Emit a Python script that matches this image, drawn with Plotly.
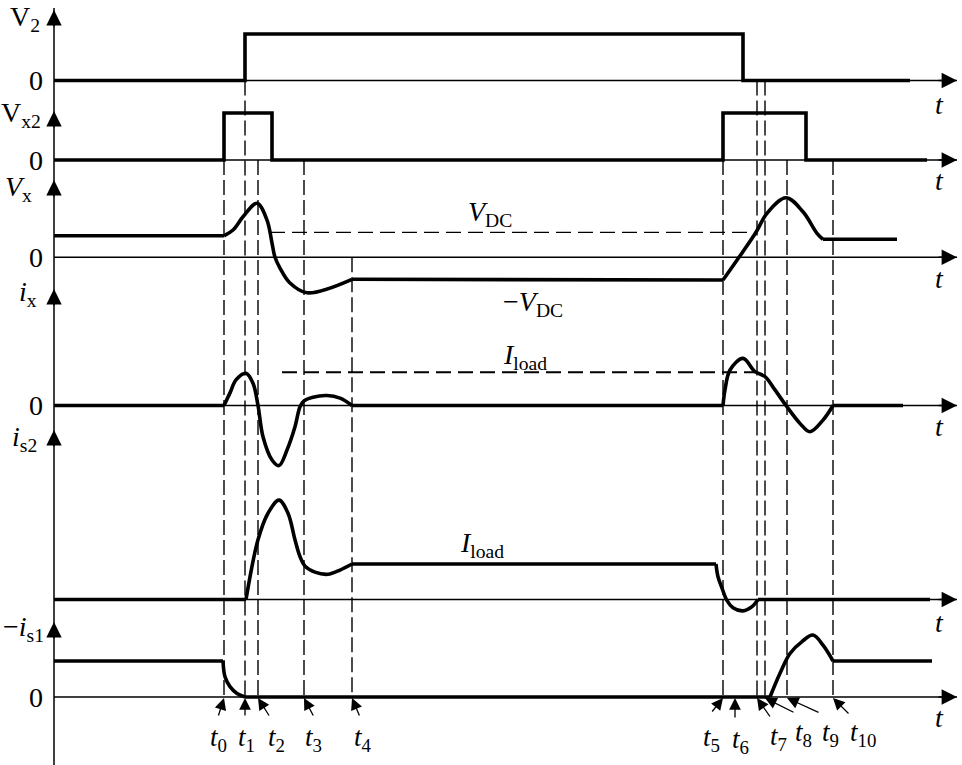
import plotly.graph_objects as go

# ---------------- data (time in arbitrary units, signals in normalised units) ----------------
event_labels = ["0", "1", "2", "3", "4", "5", "6", "7", "8", "9", "10"]
event_times = [17.0, 19.1, 20.4, 25.0, 29.8, 66.9, 68.1, 70.3, 71.1, 73.3, 77.9]

v2_t = [0.0, 19.1, 19.1, 68.9, 68.9, 85.6]
v2_v = [0, 0, 1, 1, 0, 0]

vx2_t = [0.0, 17.0, 17.0, 21.8, 21.8, 66.9, 66.9, 75.2, 75.2, 87.3]
vx2_v = [0, 0, 1, 1, 0, 0, 1, 1, 0, 0]

vx_t = [0.0, 17.0, 17.9, 18.9, 20.3, 21.3, 21.8, 22.1, 22.6, 23.6,
        25.3, 29.8, 66.9, 68.5, 70.2, 71.3, 73.2, 74.9, 76.3, 76.9, 84.3]
vx_v = [0.86, 0.86, 1.09, 1.62, 2.16, 1.49, 0.57, 0.0, -0.43, -1.03,
        -1.42, -0.88, -0.91, 0.0, 1.0, 1.76, 2.38, 1.82, 0.96, 0.72, 0.72]

ix_t = [0.0, 17.0, 17.6, 18.2, 19.2, 19.9, 20.4, 20.9, 21.8, 22.5,
        23.3, 24.1, 24.6, 25.0, 25.9, 27.3, 28.6, 29.8,
        66.9, 67.1, 67.6, 68.9, 70.1, 71.1, 72.1, 73.2,
        74.6, 75.6, 76.9, 77.9, 84.9]
ix_v = [0, 0, 0.38, 0.77, 0.97, 0.67, 0, -0.94, -1.64, -1.81,
        -1.34, -0.64, -0.04, 0.14, 0.25, 0.30, 0.22, 0,
        0, 0.47, 1.07, 1.42, 1.02, 0.87, 0.47, 0,
        -0.54, -0.79, -0.44, 0, 0]

is2_t = [0.0, 19.2, 20.4, 21.4, 22.5, 23.4, 24.1, 24.6, 25.1, 26.1, 27.4,
         28.6, 29.8, 66.2, 66.4, 66.8, 67.3, 67.9, 68.9, 69.8, 70.4, 87.6]
is2_v = [0, 0, 1.68, 2.43, 2.80, 2.43, 1.68, 1.21, 0.94, 0.77, 0.71,
         0.83, 1.0, 1.0, 0.64, 0.32, -0.03, -0.23, -0.32, -0.20, 0, 0]

is1_t = [0.0, 16.9, 17.1, 17.6, 18.3, 19.1, 71.6, 72.6, 73.6, 74.8, 75.9, 76.9, 77.9, 87.8]
is1_v = [1.0, 1.0, 0.56, 0.29, 0.10, 0, 0, 0.66, 1.21, 1.54, 1.72, 1.44, 1.0, 1.0]

vdc_level = 1.0
iload_level = 1.0

# ---------------- layout (panel placement, drawing coords = pixels from top) ----------------
FONT = "Liberation Serif, Times New Roman, serif"
PANELS = {
    "V2":  dict(base=80.5,  scale=46.5, label="V<sub>2</sub>",            lab_y=18,  lab_x=42, tip=10,  tlab=104, zero=True),
    "Vx2": dict(base=160.0, scale=47.0, label="V<sub>x2</sub>",           lab_y=114, lab_x=43, tip=111, tlab=180, zero=True),
    "Vx":  dict(base=257.3, scale=25.0, label="<i>V</i><sub>x</sub>",     lab_y=188, lab_x=34, tip=180, tlab=278, zero=True),
    "ix":  dict(base=405.5, scale=33.2, label="<i>i</i><sub>x</sub>",     lab_y=293, lab_x=39, tip=289, tlab=426, zero=True),
    "is2": dict(base=599.5, scale=35.5, label="<i>i</i><sub>s2</sub>",    lab_y=438, lab_x=39, tip=430, tlab=622, zero=False),
    "is1": dict(base=697.0, scale=36.0, label="−<i>i</i><sub>s1</sub>",   lab_y=628, lab_x=46, tip=622, tlab=717, zero=True),
}
PX0, PXU = 54.0, 10.0           # pixel of t=0 and pixels per time unit
T_END = (957 - PX0) / PXU       # arrow tip of time axes


def tx(px):
    return (px - PX0) / PXU


def ypos(panel, v):
    p = PANELS[panel]
    return p["base"] - v * p["scale"]


fig = go.Figure()
BLACK = "black"


def line(xs, ys, width=1.5, dash=None, shape="linear"):
    fig.add_trace(go.Scatter(x=xs, y=ys, mode="lines",
                             line=dict(color=BLACK, width=width, dash=dash, shape=shape),
                             hoverinfo="skip", showlegend=False))


# vertical axis
line([0, 0], [8, 765], width=1.5)

# time axes
for name, p in PANELS.items():
    line([0, T_END], [p["base"], p["base"]], width=1.5)

# vertical dashed event lines
dash_from = {0: "Vx2", 1: "V2", 2: "Vx2", 3: "Vx2", 4: "Vx", 5: "Vx2", 7: "V2", 8: "V2", 9: "Vx2", 10: "Vx2"}
for i, src in dash_from.items():
    t = event_times[i]
    line([t, t], [PANELS[src]["base"], PANELS["is1"]["base"]], width=1.4, dash="15px,5px")

# horizontal dashed reference levels
line([tx(270), event_times[7]], [ypos("Vx", vdc_level)] * 2, width=1.3, dash="15px,7px")
line([tx(282), event_times[7]], [ypos("ix", iload_level)] * 2, width=2.0, dash="15px,7px")


def signal(t, v, panel, kinks=(), smooth=False):
    y = [ypos(panel, val) for val in v]
    idx = [0] + list(kinks) + [len(t) - 1]
    for a, b in zip(idx[:-1], idx[1:]):
        shp = "spline" if (smooth and b - a > 1) else "linear"
        line(t[a:b + 1], y[a:b + 1], width=3.6, shape=shp)


signal(v2_t, v2_v, "V2")
signal(vx2_t, vx2_v, "Vx2")
signal(vx_t, vx_v, "Vx", kinks=(1, 11, 12, 19), smooth=True)
signal(ix_t, ix_v, "ix", kinks=(1, 17, 18, 29), smooth=True)
signal(is2_t, is2_v, "is2", kinks=(1, 12, 13, 20), smooth=True)
signal(is1_t, is1_v, "is1", kinks=(1, 5, 6, 12), smooth=True)

ann = []


def arrow(x, y, ax, ay, size=1.6, width=1.5):
    ann.append(dict(x=x, y=y, ax=ax, ay=ay, xref="x", yref="y", axref="x", ayref="y",
                    text="", showarrow=True, arrowhead=2, arrowsize=size, arrowwidth=width,
                    arrowcolor=BLACK, standoff=0, startstandoff=0))


def text(x, y, s, size=28, xanchor="center"):
    ann.append(dict(x=x, y=y, xref="x", yref="y", text=s, showarrow=False,
                    xanchor=xanchor, yanchor="middle",
                    font=dict(family=FONT, size=size, color=BLACK)))


for name, p in PANELS.items():
    # arrow on time axis
    arrow(T_END, p["base"], T_END - 2.0, p["base"], size=2.2, width=1.4)
    # arrow on vertical axis
    arrow(0, p["tip"], 0, p["tip"] + 18, size=2.2, width=1.4)
    text(tx(p["lab_x"]), p["lab_y"], p["label"], xanchor="right")
    if p["zero"]:
        text(tx(45), p["base"], "0", xanchor="right")
    text(tx(939), p["tlab"], "<i>t</i>")

# event labels with arrows
tail_off = {0: (-6, 20), 1: (0, 20), 2: (12, 20), 3: (10, 20), 4: (8, 20), 5: (-12, 16),
            6: (0, 22), 7: (14, 21), 8: (30, 16), 9: (33, 16), 10: (17, 18)}
lab_pos = {0: (218, 739), 1: (246, 739), 2: (276, 739), 3: (313, 739), 4: (363, 739),
           5: (711, 739), 6: (740, 741), 7: (778, 738), 8: (803, 734), 9: (830, 734), 10: (863, 734)}
yb = PANELS["is1"]["base"]
for i, lab in enumerate(event_labels):
    t = event_times[i]
    dx, dy = tail_off[i]
    arrow(t, yb + 1, t + dx / PXU, yb + dy, size=1.8, width=1.3)
    lx, ly = lab_pos[i]
    text(tx(lx), ly, "<i>t</i><sub>" + lab + "</sub>", size=27)

# level annotations
text(tx(490), 213, "<i>V</i><sub>DC</sub>")
text(tx(533), 303, "−<i>V</i><sub>DC</sub>")
text(tx(525), 356, "<i>I</i><sub>load</sub>")
text(tx(482), 544, "<i>I</i><sub>load</sub>")

fig.update_layout(
    width=962, height=765, autosize=False,
    margin=dict(l=0, r=0, t=0, b=0),
    paper_bgcolor="white", plot_bgcolor="white",
    xaxis=dict(range=[-PX0 / PXU, (962 - PX0) / PXU], visible=False, fixedrange=True),
    yaxis=dict(range=[765, 0], visible=False, fixedrange=True),
    showlegend=False,
    annotations=ann,
)

fig.write_html("out.html", config={"displayModeBar": False},
               post_script="document.body.style.margin='0';document.body.style.overflow='hidden';")
